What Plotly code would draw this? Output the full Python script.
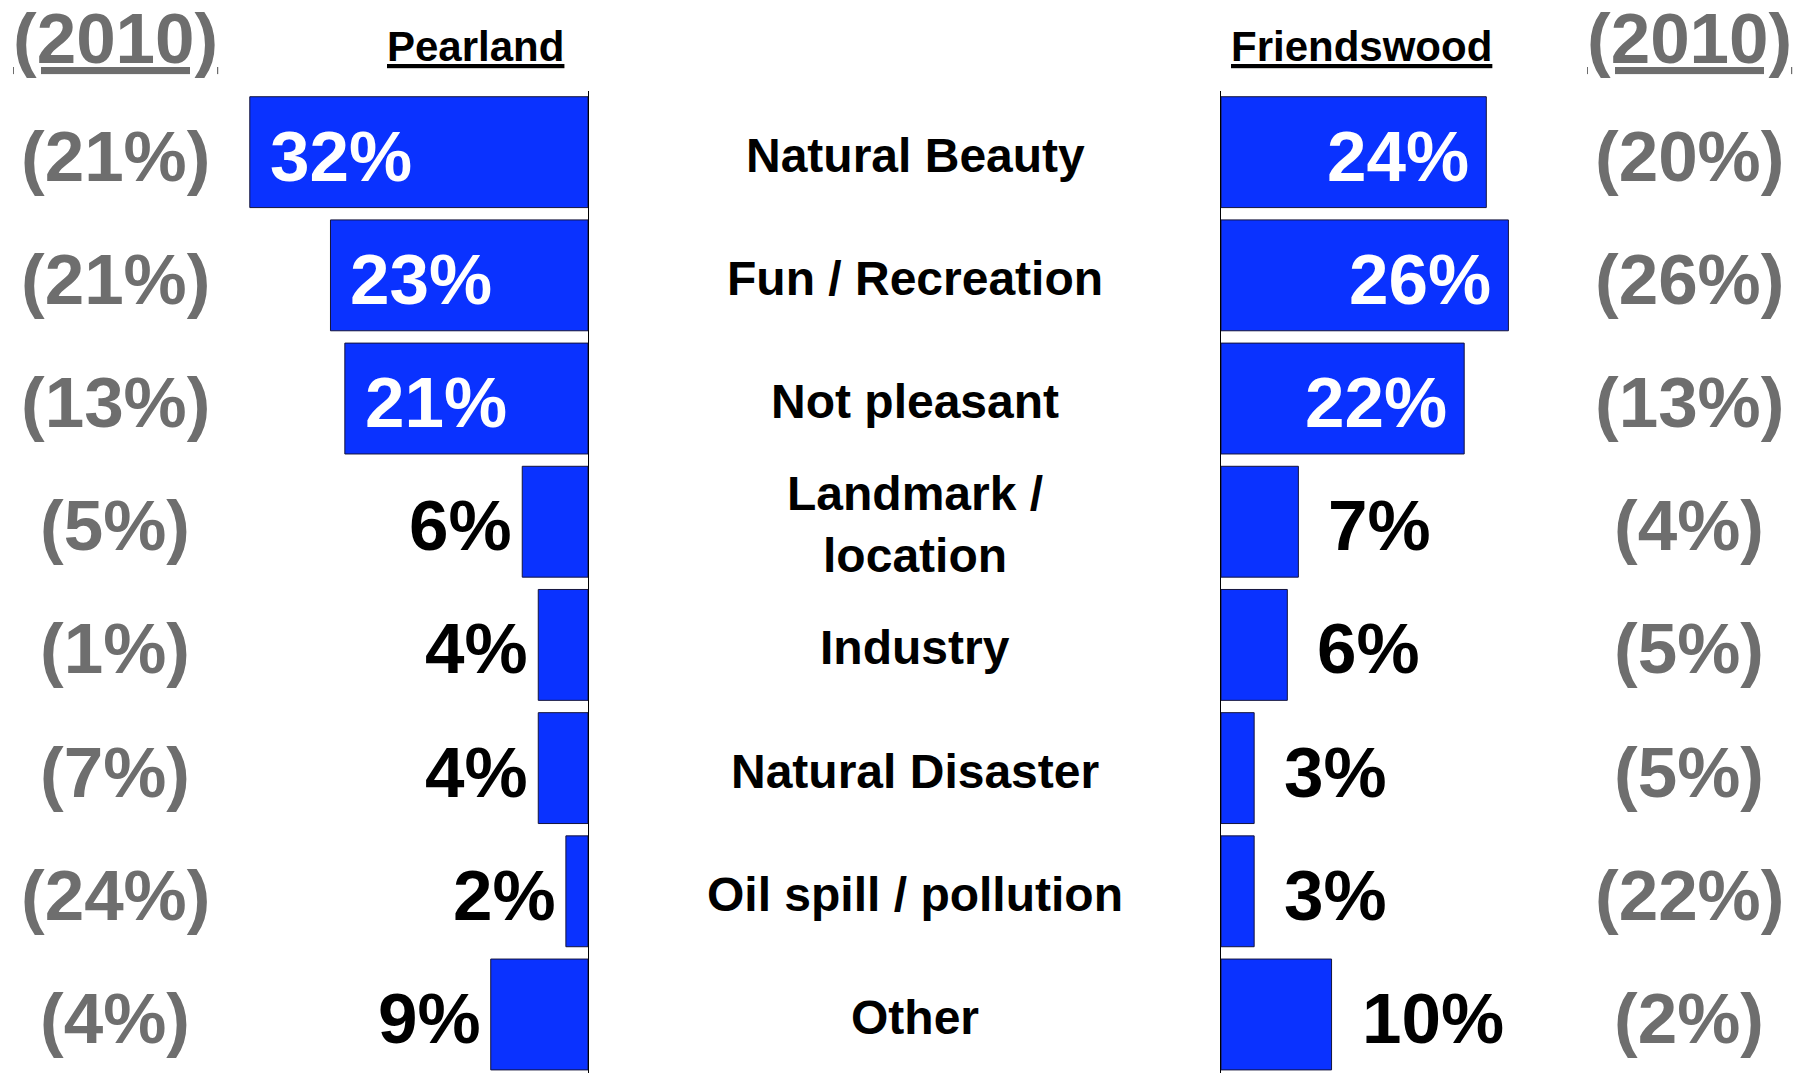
import plotly.graph_objects as go

# rows, top to bottom
categories = ["Natural Beauty", "Fun / Recreation", "Not pleasant", "Landmark /<br>location",
              "Industry", "Natural Disaster", "Oil spill / pollution", "Other"]

# bar lengths as drawn, and the printed labels
pearland = [30.6, 23.3, 22.0, 5.95, 4.5, 4.5, 2.0, 8.8]
pearland_labels = ["32%", "23%", "21%", "6%", "4%", "4%", "2%", "9%"]
pearland_2010 = ["(21%)", "(21%)", "(13%)", "(5%)", "(1%)", "(7%)", "(24%)", "(4%)"]

friendswood = [24, 26, 22, 7, 6, 3, 3, 10]
friendswood_labels = ["24%", "26%", "22%", "7%", "6%", "3%", "3%", "10%"]
friendswood_2010 = ["(20%)", "(26%)", "(13%)", "(4%)", "(5%)", "(5%)", "(22%)", "(2%)"]

rows = list(range(len(categories)))

W, H = 1808, 1073
BLUE = "#0a32ff"
GREY = "#6e6e6e"
FONT = "Liberation Sans, Arial, sans-serif"

fig = go.Figure()
fig.add_trace(go.Bar(x=pearland, y=rows, orientation="h", xaxis="x", yaxis="y",
                     marker=dict(color=BLUE, line=dict(color="#14143c", width=1)),
                     hoverinfo="skip", showlegend=False))
fig.add_trace(go.Bar(x=friendswood, y=rows, orientation="h", xaxis="x2", yaxis="y2",
                     marker=dict(color=BLUE, line=dict(color="#14143c", width=1)),
                     hoverinfo="skip", showlegend=False))

ann = []
for i in rows:
    # pearland bar labels
    v = pearland[i]
    if v >= 15:
        ann.append(dict(x=v, y=i, xref="x", yref="y", text="<b>%s</b>" % pearland_labels[i],
                        xanchor="left", xshift=18, yshift=-4, showarrow=False,
                        font=dict(size=71, color="white", family=FONT)))
    else:
        ann.append(dict(x=v, y=i, xref="x", yref="y", text="<b>%s</b>" % pearland_labels[i],
                        xanchor="right", xshift=-8, yshift=-4, showarrow=False,
                        font=dict(size=71, color="black", family=FONT)))
    # friendswood bar labels
    v = friendswood[i]
    if v >= 15:
        ann.append(dict(x=v, y=i, xref="x2", yref="y2", text="<b>%s</b>" % friendswood_labels[i],
                        xanchor="right", xshift=-15, yshift=-4, showarrow=False,
                        font=dict(size=71, color="white", family=FONT)))
    else:
        ann.append(dict(x=v, y=i, xref="x2", yref="y2", text="<b>%s</b>" % friendswood_labels[i],
                        xanchor="left", xshift=28, yshift=-4, showarrow=False,
                        font=dict(size=71, color="black", family=FONT)))
    # category in the middle
    ann.append(dict(x=915 / W, y=i, xref="paper", yref="y", text="<b>%s</b>" % categories[i],
                    xanchor="center", yshift=-3, showarrow=False,
                    font=dict(size=48, color="black", family=FONT)))
    # 2010 values
    ann.append(dict(x=115 / W, y=i, xref="paper", yref="y", text="<b>%s</b>" % pearland_2010[i],
                    xanchor="center", yshift=-4, showarrow=False,
                    font=dict(size=71, color=GREY, family=FONT)))
    ann.append(dict(x=1689 / W, y=i, xref="paper", yref="y", text="<b>%s</b>" % friendswood_2010[i],
                    xanchor="center", yshift=-4, showarrow=False,
                    font=dict(size=71, color=GREY, family=FONT)))

# headers
for xp, txt, size, col, yp in [(115, "(2010)", 71, GREY, 38), (1689, "(2010)", 71, GREY, 38),
                               (475, "Pearland", 42, "black", 46), (1361, "Friendswood", 42, "black", 46)]:
    ann.append(dict(x=xp / W, y=1 - yp / H, xref="paper", yref="paper", text="<b><u>%s</u></b>" % txt,
                    xanchor="center", yanchor="middle", showarrow=False,
                    font=dict(size=size, color=col, family=FONT)))

hidden_x = dict(showgrid=False, zeroline=False, showticklabels=False, ticks="", showline=False)
yax = dict(range=[7.475, -0.5], domain=[0, 0.9156], showgrid=False, zeroline=False,
           showticklabels=False, ticks="", showline=True, linecolor="black", linewidth=1)

fig.update_layout(
    width=W, height=H,
    margin=dict(l=0, r=0, t=0, b=0),
    paper_bgcolor="white", plot_bgcolor="white",
    bargap=0.1,
    xaxis=dict(domain=[0, 588 / W], range=[53.2, 0], anchor="y", **hidden_x),
    xaxis2=dict(domain=[1221 / W, 1], range=[0, 53.1], anchor="y2", **hidden_x),
    yaxis=dict(anchor="x", side="right", **yax),
    yaxis2=dict(anchor="x2", side="left", **yax),
    annotations=ann,
)

fig.write_html("out.html", config={"displayModeBar": False},
               post_script="document.body.style.margin='0';document.body.style.overflow='hidden';")
